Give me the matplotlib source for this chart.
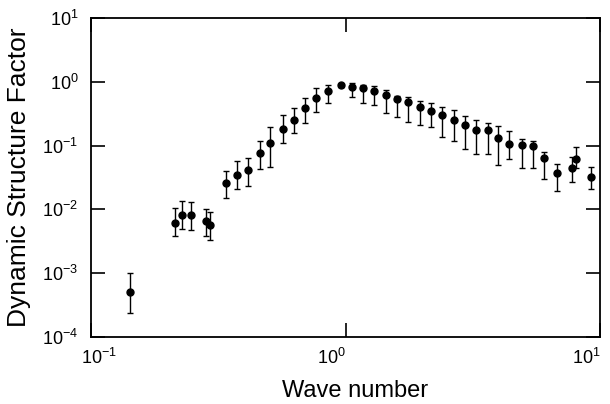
import matplotlib
matplotlib.use("Agg")
import matplotlib.pyplot as plt
import matplotlib.ticker as ticker
import matplotlib.transforms as mtransforms
import numpy as np

# values
wave_number = [0.142, 0.213, 0.227, 0.247, 0.282, 0.294, 0.339, 0.375, 0.413,
               0.461, 0.506, 0.568, 0.627, 0.693, 0.768, 0.851, 0.960, 1.063,
               1.169, 1.294, 1.443, 1.589, 1.76, 1.957, 2.162, 2.388, 2.669,
               2.953, 3.266, 3.63, 3.963, 4.401, 4.924, 5.454, 5.987, 6.76,
               7.78, 8.03, 9.22]
sf = [5.0e-4, 6.2e-3, 8.3e-3, 8.3e-3, 6.5e-3, 5.8e-3, 2.56e-2, 3.5e-2, 4.1e-2,
      7.7e-2, 0.111, 0.18, 0.252, 0.384, 0.551, 0.725, 0.881, 0.82,
      0.808, 0.718, 0.621, 0.532, 0.488, 0.403, 0.352, 0.302, 0.255,
      0.212, 0.176, 0.178, 0.130, 0.107, 0.101, 0.0985, 0.0632, 0.0376,
      0.044, 0.061, 0.0318]
sf_hi = [1.0e-3, 1.04e-2, 1.34e-2, 1.31e-2, 1.03e-2, 9.1e-3, 4.04e-2, 5.8e-2, 6.46e-2,
         0.117, 0.194, 0.299, 0.393, 0.564, 0.80, 0.90, 0.92, 0.947,
         0.90, 0.859, 0.744, 0.599, 0.584, 0.495, 0.47, 0.403, 0.361,
         0.294, 0.255, 0.226, 0.205, 0.169, 0.127, 0.118, 0.0785, 0.0509,
         0.067, 0.0961, 0.0457]
sf_lo = [2.4e-4, 3.83e-3, 4.88e-3, 4.75e-3, 3.83e-3, 3.31e-3, 1.49e-2, 2.11e-2, 2.35e-2,
         4.25e-2, 4.62e-2, 0.111, 0.156, 0.224, 0.333, 0.465, 0.84, 0.571,
         0.46, 0.433, 0.321, 0.281, 0.234, 0.210, 0.194, 0.135, 0.119,
         0.0894, 0.0738, 0.0738, 0.0497, 0.0617, 0.0451, 0.044, 0.0296, 0.0196,
         0.0272, 0.0451, 0.0207]
x_ticks = [0.1, 1, 10]
y_ticks = [1e-4, 1e-3, 1e-2, 1e-1, 1, 10]

plt.rcParams['font.family'] = ['Liberation Sans', 'DejaVu Sans']

x = np.array(wave_number)
y = np.array(sf)
yerr = [y - np.array(sf_lo), np.array(sf_hi) - y]

fig = plt.figure(figsize=(6.1, 4.04), dpi=100)
ax = fig.add_axes([0.149, 0.166, 0.835, 0.789])

ax.errorbar(x, y, yerr=yerr, fmt='o', color='black', markersize=5,
            elinewidth=1, capsize=2, capthick=1)

ax.set_xscale('log')
ax.set_yscale('log')
ax.set_xlim(0.1, 10)
ax.set_ylim(1e-4, 10)

ax.set_xticks(x_ticks)
ax.set_yticks(y_ticks)
ax.xaxis.set_minor_locator(ticker.NullLocator())
ax.yaxis.set_minor_locator(ticker.NullLocator())

ax.tick_params(which='major', direction='in', length=10, width=1.2,
               top=True, right=True, labelsize=13)
ax.tick_params(axis='x', pad=8)
ax.tick_params(axis='y', pad=9)

for s in ax.spines.values():
    s.set_linewidth(1.3)

# x labels in the original sit left of their ticks (the first a bit right)
fig.canvas.draw()
for tick in ax.xaxis.get_major_ticks():
    if tick.get_loc() > 0.5:
        tick.label1.set_horizontalalignment('right')
    else:
        shift = mtransforms.ScaledTranslation(6 / 72, 0, fig.dpi_scale_trans)
        tick.label1.set_transform(tick.label1.get_transform() + shift)

ax.set_xlabel("Wave number", fontsize=17)
ax.xaxis.set_label_coords(0.519, -0.135)
ax.set_ylabel("Dynamic Structure Factor", fontsize=19, labelpad=8)

plt.savefig("out.png", dpi=100)
